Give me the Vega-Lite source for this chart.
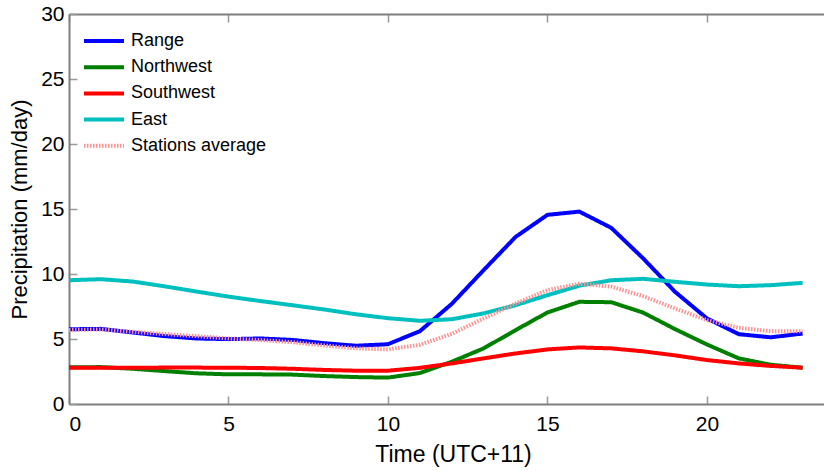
{
  "$schema": "https://vega.github.io/schema/vega-lite/v6.json",
  "autosize": "none",
  "padding": {"left": 69, "top": 14, "right": 0, "bottom": 66},
  "width": 755,
  "height": 390,
  "config": {
    "view": {"stroke": null},
    "font": "Liberation Sans",
    "axis": {
      "grid": false,
      "domainColor": "#7f7f7f",
      "domainWidth": 2,
      "tickColor": "#9a9a9a",
      "tickWidth": 1.5,
      "tickSize": -8,
      "labelFont": "Liberation Sans",
      "labelFontSize": 21,
      "labelColor": "#000000",
      "titleFont": "Liberation Sans",
      "titleFontSize": 22,
      "titleFontWeight": "normal",
      "titleColor": "#000000"
    }
  },
  "data": {
    "values": [
      {"h":0,"series":"Range","v":5.75},{"h":1,"series":"Range","v":5.78},{"h":2,"series":"Range","v":5.5},{"h":3,"series":"Range","v":5.22},{"h":4,"series":"Range","v":5.04},{"h":5,"series":"Range","v":4.99},{"h":6,"series":"Range","v":5.04},{"h":7,"series":"Range","v":4.93},{"h":8,"series":"Range","v":4.68},{"h":9,"series":"Range","v":4.48},{"h":10,"series":"Range","v":4.6},{"h":11,"series":"Range","v":5.6},{"h":12,"series":"Range","v":7.7},{"h":13,"series":"Range","v":10.3},{"h":14,"series":"Range","v":12.85},{"h":15,"series":"Range","v":14.55},{"h":16,"series":"Range","v":14.8},{"h":17,"series":"Range","v":13.55},{"h":18,"series":"Range","v":11.2},{"h":19,"series":"Range","v":8.63},{"h":20,"series":"Range","v":6.58},{"h":21,"series":"Range","v":5.37},{"h":22,"series":"Range","v":5.13},{"h":23,"series":"Range","v":5.42},
      {"h":0,"series":"Northwest","v":2.82},{"h":1,"series":"Northwest","v":2.84},{"h":2,"series":"Northwest","v":2.71},{"h":3,"series":"Northwest","v":2.53},{"h":4,"series":"Northwest","v":2.36},{"h":5,"series":"Northwest","v":2.28},{"h":6,"series":"Northwest","v":2.28},{"h":7,"series":"Northwest","v":2.26},{"h":8,"series":"Northwest","v":2.15},{"h":9,"series":"Northwest","v":2.07},{"h":10,"series":"Northwest","v":2.03},{"h":11,"series":"Northwest","v":2.38},{"h":12,"series":"Northwest","v":3.25},{"h":13,"series":"Northwest","v":4.28},{"h":14,"series":"Northwest","v":5.68},{"h":15,"series":"Northwest","v":7.04},{"h":16,"series":"Northwest","v":7.86},{"h":17,"series":"Northwest","v":7.83},{"h":18,"series":"Northwest","v":7.03},{"h":19,"series":"Northwest","v":5.76},{"h":20,"series":"Northwest","v":4.58},{"h":21,"series":"Northwest","v":3.51},{"h":22,"series":"Northwest","v":3.02},{"h":23,"series":"Northwest","v":2.79},
      {"h":0,"series":"Southwest","v":2.79},{"h":1,"series":"Southwest","v":2.79},{"h":2,"series":"Southwest","v":2.79},{"h":3,"series":"Southwest","v":2.8},{"h":4,"series":"Southwest","v":2.8},{"h":5,"series":"Southwest","v":2.79},{"h":6,"series":"Southwest","v":2.77},{"h":7,"series":"Southwest","v":2.71},{"h":8,"series":"Southwest","v":2.62},{"h":9,"series":"Southwest","v":2.56},{"h":10,"series":"Southwest","v":2.56},{"h":11,"series":"Southwest","v":2.78},{"h":12,"series":"Southwest","v":3.12},{"h":13,"series":"Southwest","v":3.51},{"h":14,"series":"Southwest","v":3.89},{"h":15,"series":"Southwest","v":4.2},{"h":16,"series":"Southwest","v":4.35},{"h":17,"series":"Southwest","v":4.28},{"h":18,"series":"Southwest","v":4.05},{"h":19,"series":"Southwest","v":3.74},{"h":20,"series":"Southwest","v":3.38},{"h":21,"series":"Southwest","v":3.12},{"h":22,"series":"Southwest","v":2.93},{"h":23,"series":"Southwest","v":2.79},
      {"h":0,"series":"East","v":9.52},{"h":1,"series":"East","v":9.6},{"h":2,"series":"East","v":9.42},{"h":3,"series":"East","v":9.05},{"h":4,"series":"East","v":8.65},{"h":5,"series":"East","v":8.26},{"h":6,"series":"East","v":7.92},{"h":7,"series":"East","v":7.6},{"h":8,"series":"East","v":7.27},{"h":9,"series":"East","v":6.9},{"h":10,"series":"East","v":6.6},{"h":11,"series":"East","v":6.4},{"h":12,"series":"East","v":6.52},{"h":13,"series":"East","v":6.97},{"h":14,"series":"East","v":7.6},{"h":15,"series":"East","v":8.37},{"h":16,"series":"East","v":9.1},{"h":17,"series":"East","v":9.52},{"h":18,"series":"East","v":9.63},{"h":19,"series":"East","v":9.4},{"h":20,"series":"East","v":9.19},{"h":21,"series":"East","v":9.06},{"h":22,"series":"East","v":9.14},{"h":23,"series":"East","v":9.32},
      {"h":0,"series":"Stations average","v":5.7},{"h":1,"series":"Stations average","v":5.74},{"h":2,"series":"Stations average","v":5.55},{"h":3,"series":"Stations average","v":5.38},{"h":4,"series":"Stations average","v":5.22},{"h":5,"series":"Stations average","v":5.04},{"h":6,"series":"Stations average","v":4.92},{"h":7,"series":"Stations average","v":4.76},{"h":8,"series":"Stations average","v":4.5},{"h":9,"series":"Stations average","v":4.28},{"h":10,"series":"Stations average","v":4.2},{"h":11,"series":"Stations average","v":4.55},{"h":12,"series":"Stations average","v":5.4},{"h":13,"series":"Stations average","v":6.58},{"h":14,"series":"Stations average","v":7.73},{"h":15,"series":"Stations average","v":8.76},{"h":16,"series":"Stations average","v":9.25},{"h":17,"series":"Stations average","v":9.03},{"h":18,"series":"Stations average","v":8.3},{"h":19,"series":"Stations average","v":7.35},{"h":20,"series":"Stations average","v":6.45},{"h":21,"series":"Stations average","v":5.86},{"h":22,"series":"Stations average","v":5.6},{"h":23,"series":"Stations average","v":5.6}
    ]
  },
  "resolve": {"axis": {"x": "independent"}},
  "layer": [
    {
      "mark": {"type": "line", "strokeWidth": 4, "clip": true},
      "encoding": {
        "x": {
          "field": "h", "type": "quantitative",
          "scale": {"domain": [0, 23.67], "nice": false, "zero": false},
          "axis": {"orient": "bottom", "values": [0, 5, 10, 15, 20], "title": "Time (UTC+11)", "titleFontSize": 23, "labelPadding": 17, "titleX": 384, "titlePadding": 9}
        },
        "y": {
          "field": "v", "type": "quantitative",
          "scale": {"domain": [0, 30], "nice": false},
          "axis": {"values": [0, 5, 10, 15, 20, 25, 30], "title": "Precipitation (mm/day)", "labelPadding": 13, "titlePadding": 9}
        },
        "color": {
          "field": "series", "type": "nominal",
          "scale": {
            "domain": ["Range", "Northwest", "Southwest", "East", "Stations average"],
            "range": ["#0000ff", "#008000", "#ff0000", "#00bfbf", "#ff9090"]
          },
          "legend": {
            "title": null,
            "orient": "none",
            "legendX": 26,
            "legendY": 18,
            "symbolType": "M-4,0H4",
            "symbolSize": 100,
            "symbolStrokeWidth": 4,
            "labelFont": "Liberation Sans",
            "labelFontSize": 18,
            "labelColor": "#000000",
            "labelOffset": 18,
            "rowPadding": 8.2,
            "padding": 0
          }
        },
        "strokeDash": {
          "field": "series", "type": "nominal",
          "scale": {
            "domain": ["Range", "Northwest", "Southwest", "East", "Stations average"],
            "range": [[1, 0], [1, 0], [1, 0], [1, 0], [1.5, 1.5]]
          },
          "legend": null
        },
        "order": {"field": "h"}
      }
    },
    {
      "mark": {"type": "rule", "opacity": 0},
      "encoding": {
        "x": {
          "field": "h", "type": "quantitative",
          "axis": {"orient": "top", "values": [0, 5, 10, 15, 20], "labels": false, "title": null}
        }
      }
    }
  ]
}
